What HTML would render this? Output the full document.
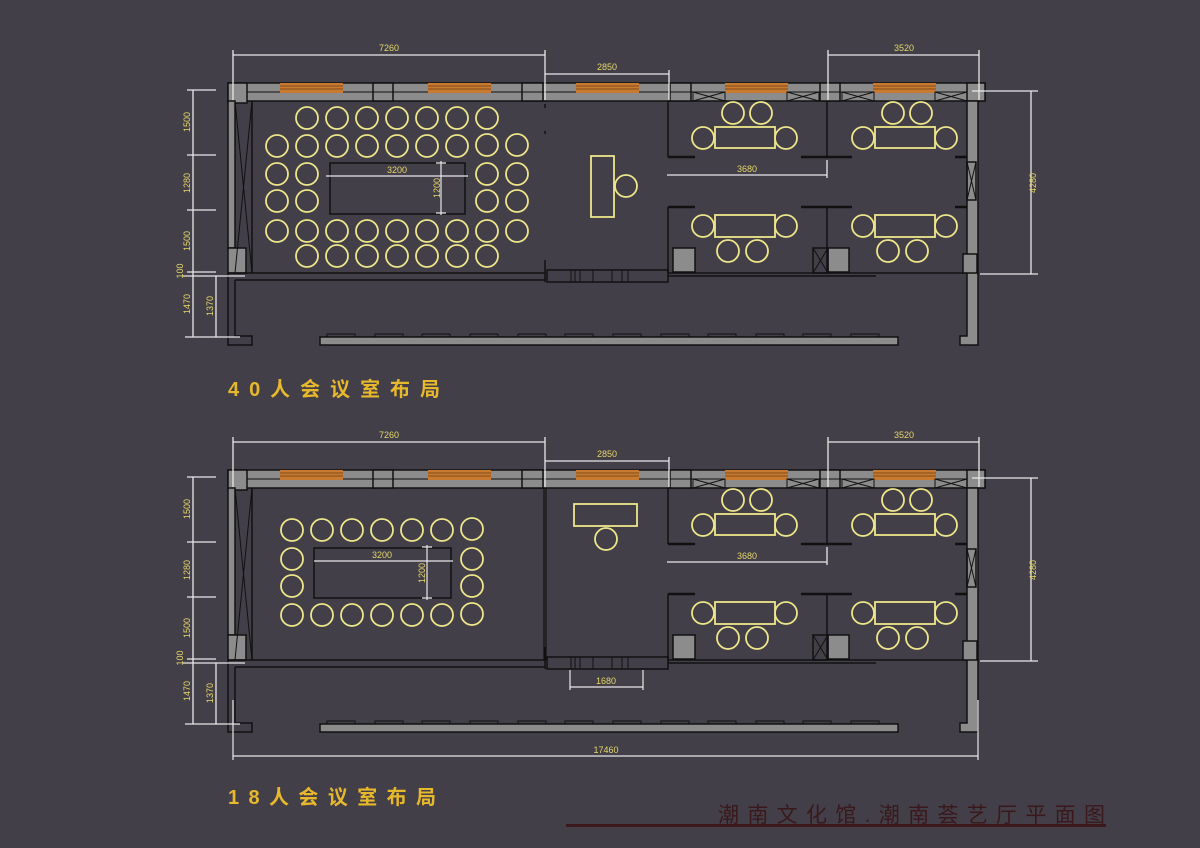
<!DOCTYPE html>
<html><head><meta charset="utf-8"><style>
html,body{margin:0;padding:0;background:#423f48;}
svg{display:block}
text{font-family:"Liberation Sans","Noto Sans CJK SC",sans-serif;}
</style></head><body>
<svg width="1200" height="848" viewBox="0 0 1200 848" xmlns="http://www.w3.org/2000/svg">
<rect width="1200" height="848" fill="#423f48"/>
<defs>
<g id="xb" stroke="#111" stroke-width="1" fill="none"><rect x="0" y="0" width="32" height="9"/><path d="M0 0L32 9M0 9L32 0"/></g>
<g id="base" stroke="#111" stroke-width="1.5">
  <rect x="228" y="83" width="757" height="18" fill="#8c8c8c"/>
  <g fill="#8c8c8c">
    <rect x="228" y="83" width="19" height="20"/><rect x="373" y="83" width="20" height="18"/>
    <rect x="522" y="83" width="21" height="18"/><rect x="670" y="83" width="21" height="18"/>
    <rect x="820" y="83" width="20" height="18"/><rect x="967" y="83" width="18" height="18"/>
  </g>
  <line x1="247" y1="92" x2="967" y2="92" stroke-width="1"/>
  <g stroke="none">
    <rect x="280" y="83" width="63" height="10" fill="#c87a30"/>
    <rect x="428" y="83" width="63" height="10" fill="#c87a30"/>
    <rect x="576" y="83" width="63" height="10" fill="#c87a30"/>
    <rect x="725" y="83" width="63" height="10" fill="#c87a30"/>
    <rect x="873" y="83" width="63" height="10" fill="#c87a30"/>
  </g>
  <g stroke="#6a3a10" stroke-width="0.8">
    <path d="M280 86H343M280 89H343M428 86H491M428 89H491M576 86H639M576 89H639M725 86H788M725 89H788M873 86H936M873 89H936"/>
  </g>
  <use href="#xb" x="693" y="92"/><use href="#xb" x="787" y="92"/>
  <use href="#xb" x="842" y="92"/><use href="#xb" x="935" y="92"/>
  <rect x="228" y="101" width="7" height="147" fill="#8c8c8c"/>
  <rect x="228" y="248" width="18" height="25" fill="#8c8c8c"/>
  <line x1="252" y1="101" x2="252" y2="273"/>
  <path d="M235 101L252 273M252 101L235 273" stroke-width="1" fill="none"/>
  <path d="M228 273V345H252V336H235V280" fill="none"/>
  <line x1="228" y1="273" x2="545" y2="273"/>
  <line x1="235" y1="280" x2="545" y2="280"/>
  <line x1="545" y1="260" x2="545" y2="282"/>
  <rect x="547" y="270" width="121" height="12" fill="none"/>
  <path d="M571 270V282M575 270V282M580 270V282M593 270V282M612 270V282M622 270V282M628 270V282" stroke-width="1"/>
  <line x1="668" y1="273" x2="967" y2="273"/>
  <line x1="668" y1="276" x2="876" y2="276"/>
  <path d="M967 101V336H960V345H978V101Z" fill="#8c8c8c"/>
  <line x1="668" y1="101" x2="668" y2="157"/>
  <line x1="668" y1="207" x2="668" y2="273"/>
  <path d="M668 157H695M668 207H695M801 157H852M801 207H852M955 157H967M955 207H967" stroke-width="2.5"/>
  <line x1="827" y1="101" x2="827" y2="157"/>
  <line x1="827" y1="207" x2="827" y2="273"/>
  <rect x="967" y="162" width="9" height="38" fill="none"/>
  <path d="M967 162L976 200M976 162L967 200" stroke-width="1"/>
  <rect x="673" y="248" width="22" height="24" fill="#8c8c8c"/>
  <rect x="828" y="248" width="21" height="24" fill="#8c8c8c"/>
  <rect x="813" y="248" width="15" height="25" fill="none"/>
  <path d="M813 248L828 273M828 248L813 273" stroke-width="1"/>
  <rect x="963" y="254" width="14" height="19" fill="#8c8c8c"/>
  <rect x="320" y="337" width="578" height="8" fill="#8c8c8c"/>
  <path d="M327 337V334H355V337M375 337V334H403V337M422 337V334H450V337M470 337V334H498V337M518 337V334H546V337M565 337V334H593V337M613 337V334H641V337M661 337V334H689V337M708 337V334H736V337M756 337V334H784V337M803 337V334H831V337M851 337V334H879V337" fill="none" stroke-width="1"/>
  <g stroke="#eee68a" stroke-width="1.8" fill="none">
    <circle cx="733" cy="113" r="11"/><circle cx="761" cy="113" r="11"/>
    <rect x="715" y="127" width="60" height="21"/><circle cx="703" cy="138" r="11"/><circle cx="786" cy="138" r="11"/>
    <circle cx="893" cy="113" r="11"/><circle cx="921" cy="113" r="11"/>
    <rect x="875" y="127" width="60" height="21"/><circle cx="863" cy="138" r="11"/><circle cx="946" cy="138" r="11"/>
    <rect x="715" y="215" width="60" height="22"/><circle cx="703" cy="226" r="11"/><circle cx="786" cy="226" r="11"/>
    <circle cx="728" cy="251" r="11"/><circle cx="757" cy="251" r="11"/>
    <rect x="875" y="215" width="60" height="22"/><circle cx="863" cy="226" r="11"/><circle cx="946" cy="226" r="11"/>
    <circle cx="888" cy="251" r="11"/><circle cx="917" cy="251" r="11"/>
  </g>
  <g stroke="#e8e8e8" stroke-width="1.3" fill="none">
    <path d="M233 55H545M233 50V100M545 50V100"/>
    <path d="M545 74H669M669 70V100"/>
    <path d="M828 55H979M828 50V100M979 50V100"/>
    <path d="M667 175H827M827 160V178"/>
    <path d="M972 91H1038M1031 91V274M980 274H1038"/>
    <path d="M193 90V337M187 90H216M187 155H216M187 210H216M187 272H216M183 276H245M216 276V337M185 337H240"/>
  </g>
</g>
</defs>

<use href="#base"/>
<use href="#base" y="387"/>

<g stroke="#111" stroke-width="1.5" fill="none">
  <rect x="330" y="163" width="135" height="51"/>
  <path d="M545 104V108M545 131V134" stroke-width="1.5"/>
</g>
<g stroke="#e8e8e8" stroke-width="1.2" fill="none">
  <path d="M326 176H468M441 161V215M436 163H446M436 213H446"/>
</g>
<g stroke="#eee68a" stroke-width="1.8" fill="none">
  <circle cx="307" cy="118" r="11"/><circle cx="337" cy="118" r="11"/><circle cx="367" cy="118" r="11"/><circle cx="397" cy="118" r="11"/><circle cx="427" cy="118" r="11"/><circle cx="457" cy="118" r="11"/><circle cx="487" cy="118" r="11"/>
  <circle cx="277" cy="146" r="11"/><circle cx="307" cy="146" r="11"/><circle cx="337" cy="146" r="11"/><circle cx="367" cy="146" r="11"/><circle cx="397" cy="146" r="11"/><circle cx="427" cy="146" r="11"/><circle cx="457" cy="146" r="11"/><circle cx="487" cy="145" r="11"/><circle cx="517" cy="145" r="11"/>
  <circle cx="277" cy="174" r="11"/><circle cx="307" cy="174" r="11"/><circle cx="487" cy="174" r="11"/><circle cx="517" cy="174" r="11"/>
  <circle cx="277" cy="201" r="11"/><circle cx="307" cy="201" r="11"/><circle cx="487" cy="201" r="11"/><circle cx="517" cy="201" r="11"/>
  <circle cx="277" cy="231" r="11"/><circle cx="307" cy="231" r="11"/><circle cx="337" cy="231" r="11"/><circle cx="367" cy="231" r="11"/><circle cx="397" cy="231" r="11"/><circle cx="427" cy="231" r="11"/><circle cx="457" cy="231" r="11"/><circle cx="487" cy="231" r="11"/><circle cx="517" cy="231" r="11"/>
  <circle cx="307" cy="256" r="11"/><circle cx="337" cy="256" r="11"/><circle cx="367" cy="256" r="11"/><circle cx="397" cy="256" r="11"/><circle cx="427" cy="256" r="11"/><circle cx="457" cy="256" r="11"/><circle cx="487" cy="256" r="11"/>
  <rect x="591" y="156" width="23" height="61"/><circle cx="626" cy="186" r="11"/>
</g>

<g stroke="#111" stroke-width="1.5" fill="none">
  <rect x="314" y="548" width="137" height="50"/>
  <path d="M544 488V660M546 488V660" stroke-width="1.2"/>
</g>
<g stroke="#e8e8e8" stroke-width="1.2" fill="none">
  <path d="M314 561H453M427 545V600M422 547H432M422 598H432"/>
  <path d="M570 687H643M570 670V690M643 670V690"/>
  <path d="M233 756H978M233 700V760M978 700V760"/>
</g>
<g stroke="#eee68a" stroke-width="1.8" fill="none">
  <circle cx="292" cy="530" r="11"/><circle cx="322" cy="530" r="11"/><circle cx="352" cy="530" r="11"/><circle cx="382" cy="530" r="11"/><circle cx="412" cy="530" r="11"/><circle cx="442" cy="530" r="11"/><circle cx="472" cy="529" r="11"/>
  <circle cx="292" cy="559" r="11"/><circle cx="472" cy="559" r="11"/>
  <circle cx="292" cy="586" r="11"/><circle cx="472" cy="586" r="11"/>
  <circle cx="292" cy="615" r="11"/><circle cx="322" cy="615" r="11"/><circle cx="352" cy="615" r="11"/><circle cx="382" cy="615" r="11"/><circle cx="412" cy="615" r="11"/><circle cx="442" cy="615" r="11"/><circle cx="472" cy="614" r="11"/>
  <rect x="574" y="504" width="63" height="22"/><circle cx="606" cy="539" r="11"/>
</g>

<g fill="#e6d86a" font-size="9" text-anchor="middle">
  <text x="389" y="51">7260</text><text x="607" y="70">2850</text><text x="904" y="51">3520</text>
  <text x="747" y="172">3680</text><text x="397" y="173">3200</text>
  <text x="389" y="438">7260</text><text x="607" y="457">2850</text><text x="904" y="438">3520</text>
  <text x="747" y="559">3680</text><text x="382" y="558">3200</text>
  <text x="606" y="684">1680</text><text x="606" y="753">17460</text>
  <text transform="translate(440,188) rotate(-90)">1200</text>
  <text transform="translate(425,573) rotate(-90)">1200</text>
  <text transform="translate(1036,183) rotate(-90)">4280</text>
  <text transform="translate(1036,570) rotate(-90)">4280</text>
  <text transform="translate(190,122) rotate(-90)">1500</text>
  <text transform="translate(190,183) rotate(-90)">1280</text>
  <text transform="translate(190,241) rotate(-90)">1500</text>
  <text transform="translate(183,271) rotate(-90)">100</text>
  <text transform="translate(190,304) rotate(-90)">1470</text>
  <text transform="translate(213,306) rotate(-90)">1370</text>
  <text transform="translate(190,509) rotate(-90)">1500</text>
  <text transform="translate(190,570) rotate(-90)">1280</text>
  <text transform="translate(190,628) rotate(-90)">1500</text>
  <text transform="translate(183,658) rotate(-90)">100</text>
  <text transform="translate(190,691) rotate(-90)">1470</text>
  <text transform="translate(213,693) rotate(-90)">1370</text>
</g>

<g fill="#e8b82c" font-size="20" font-weight="bold">
  <text x="228" y="396" textLength="212" lengthAdjust="spacing">40人会议室布局</text>
  <text x="228" y="804" textLength="208" lengthAdjust="spacing">18人会议室布局</text>
</g>
<text x="718" y="822" fill="#3a181b" font-size="21" textLength="387" lengthAdjust="spacing">潮南文化馆.潮南荟艺厅平面图</text>
<rect x="566" y="824" width="540" height="3" fill="#3a181b"/>
</svg>
</body></html>
